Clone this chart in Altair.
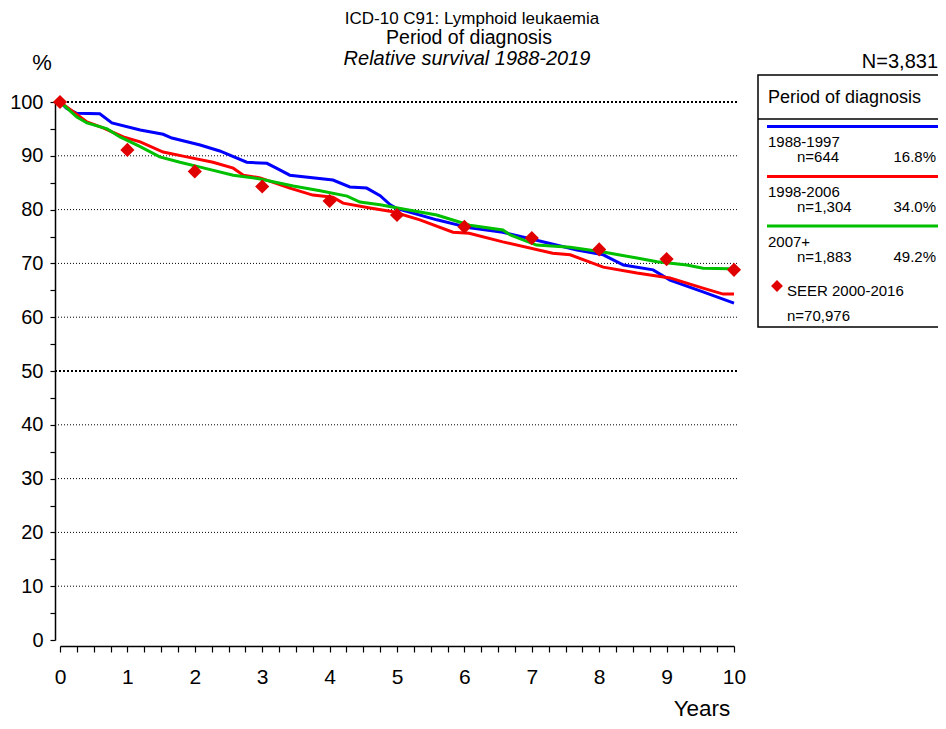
import altair as alt
import pandas as pd

# ---- data ----
blue_t = [0, 0.1, 0.25, 0.59, 0.77, 1.19, 1.53, 1.66, 2.08, 2.37, 2.77, 3.07, 3.21, 3.41, 4.05, 4.30, 4.55, 4.75,
          4.9, 5.0, 5.59, 6.08, 6.57, 7.07, 7.67, 8.06, 8.36, 8.8, 9.05, 9.54, 10.0]
blue_v = [100, 98.8, 97.9, 97.8, 96.1, 94.8, 94.0, 93.3, 92.0, 90.9, 88.8, 88.6, 87.7, 86.4, 85.5, 84.2, 84.0, 82.6,
          80.9, 80.2, 78.1, 76.6, 75.8, 74.3, 72.5, 71.6, 69.7, 68.8, 66.9, 64.7, 62.6]

red_t = [0, 0.4, 0.64, 0.94, 1.19, 1.53, 1.88, 2.27, 2.57, 2.72, 2.97, 3.41, 3.75, 4.05, 4.2, 4.6, 4.94, 5.34,
         5.83, 6.07, 6.57, 7.31, 7.57, 8.06, 8.56, 9.05, 9.54, 9.84, 10.0]
red_v = [100, 96.3, 95.2, 93.5, 92.6, 90.7, 89.8, 88.8, 87.7, 86.4, 85.9, 84.0, 82.7, 82.3, 81.2, 80.3, 79.6, 78.1,
         75.8, 75.6, 74.0, 71.9, 71.6, 69.3, 68.2, 67.3, 65.4, 64.3, 64.3]

green_t = [0, 0.1, 0.25, 0.4, 0.7, 0.89, 1.19, 1.48, 1.78, 2.08, 2.57, 2.97, 3.46, 3.86, 4.26, 4.45, 4.75, 5.09,
           5.59, 6.08, 6.57, 6.68, 7.07, 7.57, 8.06, 8.56, 8.86, 9.3, 9.54, 9.94, 10.0]
green_v = [100, 98.9, 97.2, 96.1, 95.0, 93.5, 91.7, 89.8, 88.8, 87.9, 86.4, 85.7, 84.4, 83.5, 82.5, 81.4, 80.9, 80.1,
           79.0, 77.1, 76.2, 75.3, 73.4, 73.0, 72.1, 71.0, 70.3, 69.7, 69.1, 69.0, 68.5]

seer_t = [0, 1, 2, 3, 4, 5, 6, 7, 8, 9, 10]
seer_v = [100, 91.1, 87.1, 84.3, 81.6, 79.0, 76.8, 74.7, 72.6, 70.8, 68.8]

grid_fine = [10, 20, 30, 40, 60, 70, 80, 90]
grid_bold = [50, 100]
x_tick_values = [i / 4 for i in range(41)]
y_tick_values = list(range(0, 101, 5))

FONT = "Liberation Sans"
OX, OY = 60, 102  # page position of the plot origin


def px(x):
    return x - OX


def py(y):
    return y - OY


xs = alt.Scale(domain=[0, 10], nice=False, zero=False)
ys = alt.Scale(domain=[0, 100], nice=False)

xaxis = alt.Axis(values=x_tick_values,
                 labelExpr="datum.value % 1 === 0 ? format(datum.value, 'd') : ''",
                 grid=False, tickSize=6, tickColor="black", domainColor="black", domainWidth=1.5,
                 tickWidth=1.2, labelFontSize=21, labelColor="black", labelPadding=14, offset=6,
                 title=None, labelOverlap=False, labelFlush=False, labelFont=FONT)
yaxis = alt.Axis(values=y_tick_values,
                 labelExpr="datum.value % 10 === 0 ? format(datum.value, 'd') : ''",
                 grid=False, tickSize=5, tickColor="black", domainColor="black", domainWidth=1.5,
                 tickWidth=1.2, labelFontSize=20, labelColor="black", labelPadding=7, offset=5,
                 title=None, labelOverlap=False, labelFlush=False, labelFont=FONT)

one = alt.Data(values=[{"a": 1}])


def txt(s, x, y, size=16, align="left", style="normal"):
    # y is the text baseline (page pixels)
    return alt.Chart(one).mark_text(font=FONT, fontSize=size, fontStyle=style, align=align,
                                    baseline="alphabetic", color="black").encode(
        x=alt.value(px(x)), y=alt.value(py(y)), text=alt.value(s))


def hrule(x1, x2, y, color="black", w=1.5):
    return alt.Chart(one).mark_rule(color=color, strokeWidth=w).encode(
        x=alt.value(px(x1)), x2=alt.value(px(x2)), y=alt.value(py(y)))


grid1 = alt.Chart(pd.DataFrame({"g": grid_fine})).mark_rule(
    color="black", strokeWidth=1, strokeDash=[1, 2]).encode(
    y=alt.Y("g:Q", scale=ys, axis=yaxis), x=alt.value(-5), x2=alt.value(678))
grid2 = alt.Chart(pd.DataFrame({"g": grid_bold})).mark_rule(
    color="black", strokeWidth=2, strokeDash=[2, 2]).encode(
    y=alt.Y("g:Q", scale=ys, axis=yaxis), x=alt.value(-5), x2=alt.value(678))


def line_layer(t, v, color):
    df = pd.DataFrame({"t": t, "v": v})
    return alt.Chart(df).mark_line(color=color, strokeWidth=3).encode(
        x=alt.X("t:Q", scale=xs, axis=xaxis), y=alt.Y("v:Q", scale=ys, axis=yaxis))


blue = line_layer(blue_t, blue_v, "#0000FF")
red = line_layer(red_t, red_v, "#FF0000")
green = line_layer(green_t, green_v, "#00C000")

seer = alt.Chart(pd.DataFrame({"t": seer_t, "v": seer_v})).mark_point(
    shape="diamond", filled=True, color="#E00000", size=200, opacity=1).encode(
    x=alt.X("t:Q", scale=xs, axis=xaxis), y=alt.Y("v:Q", scale=ys, axis=yaxis))

# legend box
box = alt.Chart(one).mark_rect(fill="white", stroke="black", strokeWidth=1.5).encode(
    x=alt.value(px(758)), x2=alt.value(px(975)), y=alt.value(py(75)), y2=alt.value(py(327)))
leg_diamond = alt.Chart(one).mark_point(shape="diamond", filled=True, color="#E00000",
                                        size=140, opacity=1).encode(
    x=alt.value(px(777)), y=alt.value(py(286)))

layers = [
    grid1, grid2, blue, red, green, seer,
    txt("ICD-10 C91: Lymphoid leukaemia", 472, 24, 17, "center"),
    txt("Period of diagnosis", 469, 44, 19.5, "center"),
    txt("Relative survival 1988-2019", 467, 64.5, 20, "center", "italic"),
    txt("%", 42, 70, 22, "center"),
    txt("N=3,831", 938, 68, 20, "right"),
    txt("Years", 702, 716, 22.5, "center"),
    box,
    hrule(758, 975, 119, "black", 1.5),
    txt("Period of diagnosis", 768, 103, 18),
    hrule(767, 940, 126.5, "#0000FF", 3),
    txt("1988-1997", 768, 146.5, 15),
    txt("n=644", 797, 162, 15),
    txt("16.8%", 936, 162, 15, "right"),
    hrule(767, 940, 176.5, "#FF0000", 3),
    txt("1998-2006", 768, 196.5, 15),
    txt("n=1,304", 797, 212, 15),
    txt("34.0%", 936, 212, 15, "right"),
    hrule(767, 940, 226, "#00C000", 3),
    txt("2007+", 768, 246.5, 15),
    txt("n=1,883", 797, 261.5, 15),
    txt("49.2%", 936, 261.5, 15, "right"),
    leg_diamond,
    txt("SEER 2000-2016", 787, 296, 15),
    txt("n=70,976", 787, 321, 15),
]

chart = alt.layer(*layers).properties(
    width=674, height=538,
    autosize=alt.AutoSizeParams(type="none"),
    padding={"left": 52, "top": 94, "right": 204, "bottom": 81},
).configure_view(stroke=None)

chart.save("out.html", embed_options={"renderer": "svg", "actions": False})
